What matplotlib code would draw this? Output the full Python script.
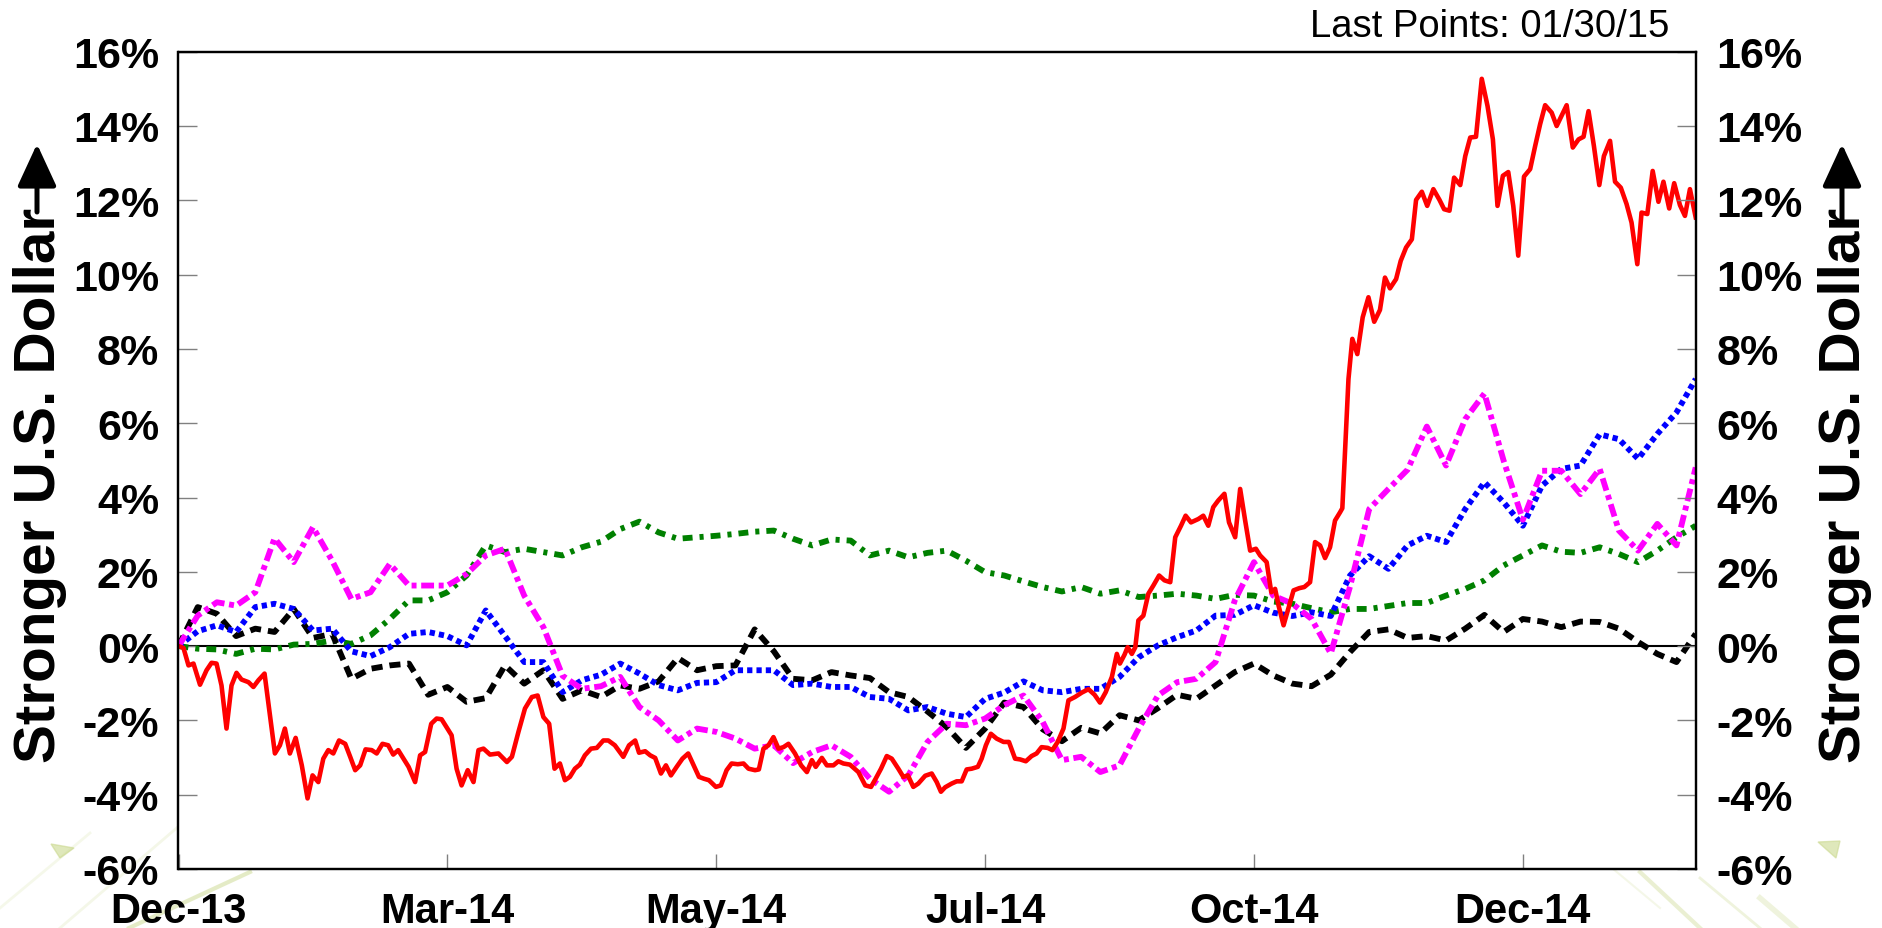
import numpy as np
import pandas as pd
import matplotlib
matplotlib.use("Agg")
import matplotlib.pyplot as plt
import matplotlib.dates as mdates
from matplotlib.lines import Line2D
from matplotlib.patches import Polygon

plt.rcParams['font.family'] = ['Liberation Sans', 'DejaVu Sans']
plt.rcParams['font.weight'] = 'bold'

# ---- data -------------------------------------------------------------
start = pd.Timestamp('2013-12-31')
end = pd.Timestamp('2015-01-30')
dates = pd.date_range(start, end, freq='5D')          # 80 points
tick_dates = pd.date_range(start, periods=6, freq='70D')
y_ticks = list(range(-6, 17, 2))

# red series is daily-ish, stored as day offsets from start
red_days = [0, 1.3, 2.6, 3.9, 5.6, 7.3, 8.6, 9.9, 11.2, 12.5, 13.8, 15.1, 16.4, 18.2, 19.5,
            20.8, 22.4, 23.8, 25.1, 26.4, 27.7, 29.0, 30.5, 32.1, 33.6, 34.9, 36.4, 37.7,
            39.0, 40.3, 41.8, 43.4, 44.7, 46.0, 47.3, 48.7, 50.3, 51.6, 53.1, 54.6, 55.9,
            57.2, 59.9, 61.6, 62.9, 64.2, 65.8, 67.2, 68.5, 71.1, 72.4, 73.7, 75.3, 76.8,
            78.1, 79.4, 81.1, 83.3, 85.5, 86.8, 88.5, 90.2, 92.0, 93.5, 95.0, 96.5, 97.9,
            99.3, 100.6, 101.9, 103.2, 104.5, 105.8, 107.4, 108.9, 110.6, 111.9, 113.6,
            115.8, 117.3, 118.9, 119.9, 121.5, 122.8, 124.1, 125.6, 126.9, 128.2, 129.7,
            131.2, 132.7, 134.3, 135.5, 136.8, 138.1, 139.9, 141.2, 142.7, 144.0, 145.6,
            147.1, 148.4, 150.1, 151.1, 152.3, 153.6, 154.9, 156.2, 157.5, 158.8, 160.5,
            162.1, 163.6, 164.9, 165.9, 167.5, 168.8, 170.5, 171.8, 173.1, 174.8, 177.0,
            178.8, 180.3, 181.5, 182.9, 184.4, 185.7, 187.4, 188.7, 189.9, 191.3, 192.6,
            194.4, 196.1, 197.4, 198.5, 199.6, 201.3, 202.6, 203.9, 205.2, 206.5, 208.1,
            209.1, 210.2, 211.5, 213.0, 214.8, 216.2, 217.8, 219.1, 220.6, 222.1, 223.4,
            224.7, 226.3, 227.5, 228.9, 230.4, 231.7, 233.4, 235.2, 236.9, 238.5, 239.9,
            241.4, 243.0, 244.3, 245.1, 246.3, 247.1, 248.2, 249.1, 249.9, 251.2, 252.5,
            253.8, 255.3, 256.7, 258.2, 259.5, 261.0, 262.2, 263.6, 265.5, 266.8, 268.1,
            269.4, 270.7, 272.3, 273.5, 275.1, 276.4, 277.7, 279.0, 280.5, 281.6, 283.3,
            284.5, 285.5, 286.4, 287.7, 288.8, 290.3, 291.8, 293.1, 294.6, 295.9, 297.2,
            298.5, 299.8, 301.1, 302.4, 303.0, 304.6, 305.6, 306.9, 308.3, 309.8, 311.3,
            312.8, 314.1, 315.4, 317.0, 318.2, 319.6, 321.1, 322.2, 323.7, 325.1, 326.7,
            328.3, 329.5, 330.9, 332.1, 333.7, 335.0, 336.3, 337.8, 339.3, 340.8, 342.2,
            343.4, 344.8, 346.2, 347.5, 348.8, 350.3, 351.9, 353.2, 354.5, 355.8, 357.5,
            358.8, 361.4, 363.0, 364.5, 365.8, 367.1, 368.5, 369.9, 371.1, 372.7, 374.0,
            375.5, 377.0, 378.3, 379.8, 380.9, 382.4, 383.8, 385.3, 386.6, 388.1, 389.4,
            390.9, 392.2, 393.5, 395.0]
red_vals = [0.00, -0.05, -0.52, -0.47, -1.04, -0.65, -0.45, -0.47, -1.06, -2.22, -1.06, -0.72,
            -0.90, -0.97, -1.10, -0.92, -0.74, -1.86, -2.89, -2.67, -2.22, -2.89, -2.47, -3.21,
            -4.10, -3.48, -3.66, -3.03, -2.80, -2.89, -2.54, -2.63, -2.98, -3.34, -3.21, -2.78,
            -2.80, -2.89, -2.63, -2.67, -2.92, -2.80, -3.25, -3.66, -2.94, -2.85, -2.09, -1.95,
            -1.97, -2.40, -3.30, -3.75, -3.34, -3.66, -2.80, -2.76, -2.92, -2.89, -3.12, -2.98,
            -2.31, -1.68, -1.37, -1.33, -1.91, -2.09, -3.30, -3.16, -3.61, -3.52, -3.30, -3.19,
            -2.94, -2.76, -2.74, -2.54, -2.54, -2.67, -2.98, -2.67, -2.54, -2.87, -2.83, -2.94,
            -3.01, -3.43, -3.21, -3.48, -3.25, -3.03, -2.89, -3.25, -3.52, -3.57, -3.61, -3.79,
            -3.75, -3.34, -3.16, -3.18, -3.16, -3.30, -3.34, -3.32, -2.76, -2.67, -2.45, -2.76,
            -2.72, -2.63, -2.89, -3.21, -3.39, -3.07, -3.25, -3.01, -3.21, -3.21, -3.10, -3.16,
            -3.19, -3.39, -3.75, -3.79, -3.57, -3.30, -2.96, -3.03, -3.30, -3.52, -3.48, -3.79,
            -3.70, -3.49, -3.43, -3.66, -3.92, -3.80, -3.70, -3.64, -3.64, -3.32, -3.30, -3.25,
            -3.03, -2.67, -2.36, -2.49, -2.58, -2.58, -3.03, -3.05, -3.10, -2.96, -2.89, -2.72,
            -2.74, -2.80, -2.58, -2.22, -1.46, -1.37, -1.25, -1.16, -1.31, -1.52, -1.24, -0.83,
            -0.21, -0.47, -0.23, -0.03, -0.21, -0.03, 0.69, 0.82, 1.41, 1.63, 1.90, 1.77, 1.72,
            2.93, 3.24, 3.51, 3.33, 3.42, 3.51, 3.24, 3.74, 3.92, 4.10, 3.33, 2.93, 4.23, 3.38,
            2.57, 2.62, 2.44, 2.26, 1.45, 1.54, 1.09, 0.56, 0.96, 1.50, 1.56, 1.59, 1.72, 2.80,
            2.71, 2.37, 2.66, 3.38, 3.60, 3.71, 7.19, 8.27, 7.86, 8.85, 9.39, 8.73, 9.05, 9.92,
            9.63, 9.88, 10.37, 10.73, 10.95, 12.01, 12.23, 11.85, 12.30, 12.01, 11.76, 11.72,
            12.61, 12.41, 13.19, 13.69, 13.71, 15.27, 14.54, 13.64, 11.85, 12.66, 12.76, 11.85,
            10.51, 12.64, 12.84, 13.46, 14.05, 14.56, 14.36, 14.00, 14.56, 13.42, 13.64, 13.71,
            14.40, 13.46, 12.41, 13.19, 13.60, 12.50, 12.34, 11.90, 11.40, 10.28, 11.67, 11.63,
            12.79, 11.96, 12.50, 11.78, 12.46, 11.87, 11.58, 12.30, 11.54]

# remaining series sampled every 5 days
magenta_vals = [0.00, 0.82, 1.18, 1.09, 1.45, 2.90, 2.26, 3.20, 2.30, 1.27,
                1.45, 2.21, 1.63, 1.63, 1.63, 1.94, 2.44, 2.62, 1.36, 0.51,
                -0.80, -1.15, -1.08, -0.83, -1.64, -2.00, -2.54, -2.22, -2.31, -2.49,
                -2.76, -2.67, -3.15, -2.85, -2.67, -2.98, -3.57, -3.92, -3.48, -2.58,
                -2.09, -2.13, -1.95, -1.59, -1.33, -2.04, -3.07, -2.98, -3.39, -3.21,
                -2.22, -1.33, -0.97, -0.88, -0.43, 1.23, 2.26, 1.36, 1.14, 0.73,
                -0.20, 1.60, 3.69, 4.23, 4.75, 5.91, 4.86, 6.11, 6.80, 4.99,
                3.40, 4.72, 4.72, 4.09, 4.77, 3.11, 2.57, 3.29, 2.71, 4.81]
blue_vals = [0.00, 0.40, 0.56, 0.38, 1.05, 1.14, 1.00, 0.42, 0.47, -0.14,
             -0.27, -0.03, 0.33, 0.38, 0.27, 0.02, 0.96, 0.27, -0.43, -0.43,
             -1.24, -0.92, -0.77, -0.47, -0.74, -1.05, -1.19, -0.99, -0.97, -0.65,
             -0.65, -0.65, -1.05, -1.01, -1.10, -1.10, -1.37, -1.42, -1.73, -1.64,
             -1.82, -1.91, -1.42, -1.25, -0.95, -1.19, -1.24, -1.15, -1.15, -0.83,
             -0.30, 0.02, 0.24, 0.42, 0.82, 0.84, 1.10, 0.90, 0.81, 0.91,
             0.81, 1.90, 2.42, 2.08, 2.71, 2.97, 2.80, 3.69, 4.41, 3.87,
             3.24, 4.32, 4.77, 4.86, 5.70, 5.57, 5.04, 5.71, 6.29, 7.19]
green_vals = [0.00, -0.07, -0.09, -0.21, -0.07, -0.09, 0.04, 0.06, 0.15, 0.06,
              0.29, 0.73, 1.23, 1.23, 1.45, 1.90, 2.71, 2.53, 2.62, 2.53,
              2.44, 2.66, 2.81, 3.15, 3.35, 3.06, 2.89, 2.93, 2.97, 3.02,
              3.08, 3.11, 2.89, 2.71, 2.87, 2.84, 2.44, 2.57, 2.39, 2.51,
              2.57, 2.30, 1.99, 1.90, 1.74, 1.59, 1.47, 1.59, 1.41, 1.50,
              1.32, 1.36, 1.41, 1.36, 1.27, 1.38, 1.36, 1.20, 1.14, 1.02,
              0.91, 1.00, 1.00, 1.08, 1.16, 1.16, 1.36, 1.54, 1.77, 2.17,
              2.44, 2.71, 2.54, 2.51, 2.66, 2.48, 2.26, 2.57, 2.93, 3.24]
black_vals = [0.00, 1.05, 0.87, 0.27, 0.47, 0.38, 1.00, 0.22, 0.33, -0.88,
              -0.61, -0.52, -0.47, -1.31, -1.10, -1.50, -1.40, -0.52, -1.01, -0.65,
              -1.42, -1.19, -1.37, -1.06, -1.15, -0.95, -0.32, -0.65, -0.54, -0.52,
              0.45, -0.14, -0.88, -0.92, -0.70, -0.79, -0.86, -1.24, -1.37, -1.76,
              -2.18, -2.74, -2.22, -1.52, -1.64, -2.24, -2.56, -2.20, -2.35, -1.86,
              -2.00, -1.67, -1.31, -1.42, -1.06, -0.70, -0.47, -0.79, -1.01, -1.08,
              -0.77, -0.16, 0.38, 0.45, 0.22, 0.27, 0.15, 0.47, 0.84, 0.38,
              0.73, 0.66, 0.51, 0.66, 0.65, 0.47, 0.11, -0.21, -0.43, 0.33]

red_dates = start + pd.to_timedelta(red_days, unit='D')

# ---- figure -----------------------------------------------------------
W, H = 1883, 929
fig = plt.figure(figsize=(W / 100, H / 100), dpi=100, facecolor='white')

# faint decorative streaks in the lower corners
deco = '#cbd98f'
for (x0, y0, x1, y1, lw, a) in [(129, 0, 250, 56, 3, 0.5), (60, 0, 200, 120, 2, 0.2),
                                (0, 20, 90, 95, 2, 0.18), (1640, 56, 1700, 0, 3, 0.4),
                                (1700, 50, 1760, 0, 2, 0.3), (1760, 30, 1795, 0, 4, 0.3),
                                (1600, 70, 1660, 20, 1.5, 0.2)]:
    fig.add_artist(Line2D([x0 / W, x1 / W], [y0 / H, y1 / H], transform=fig.transFigure,
                          color=deco, lw=lw, alpha=a, zorder=0))
for tri in [[(51, 84), (74, 80), (60, 70)], [(1818, 86), (1840, 87), (1836, 70)]]:
    fig.add_artist(Polygon([(x / W, y / H) for x, y in tri], closed=True,
                           transform=fig.transFigure, color=deco, alpha=0.6, zorder=0))

ax = fig.add_axes([178.5 / W, 59 / H, 1517.2 / W, 817.3 / H])
ax.set_facecolor('white')

ax.plot(dates, green_vals, color='#008000', lw=4.2, dashes=(1.7, 1.2, 0.7, 1.2))
ax.plot(dates, black_vals, color='black', lw=4.2, dashes=(1.9, 1.2))
ax.plot(dates, blue_vals, color='#0000ff', lw=4.2, dashes=(0.9, 0.7))
ax.plot(dates, magenta_vals, color='#ff00ff', lw=4.2, dashes=(2.2, 0.8, 0.85, 0.8))
ax.plot(red_dates, red_vals, color='#ff0000', lw=3.3)
ax.axhline(0, color='black', lw=1.5, zorder=1)

ax.set_xlim(start, end)
ax.set_ylim(-6, 16)
ax.set_xticks(tick_dates)
ax.xaxis.set_major_formatter(mdates.DateFormatter('%b-%y'))
ax.set_yticks(y_ticks)
ax.set_yticklabels([f'{v}%' for v in y_ticks])
ax.tick_params(axis='x', direction='in', length=11, width=1.0, color='#808080',
               labelsize=30, pad=15.5)
ax.tick_params(axis='y', direction='in', length=13.5, width=1.0, color='#808080',
               labelsize=31, pad=14)
for s in ax.spines.values():
    s.set_linewidth(1.6)

ax2 = ax.twinx()
ax2.set_ylim(-6, 16)
ax2.set_yticks(y_ticks)
ax2.set_yticklabels([f'{v}%' for v in y_ticks])
ax2.tick_params(axis='y', direction='in', length=13.5, width=1.0, color='#808080',
                labelsize=31, pad=15)
for s in ax2.spines.values():
    s.set_linewidth(1.6)

# side labels with "up" arrows
for xc, y_shaft in [(40, 213), (1845, 222)]:
    fig.text(xc / W, 1 - 485 / H, 'Stronger U.S. Dollar', rotation=90,
             ha='center', va='center', fontsize=42, fontweight='bold')
    ax.annotate('', xy=(xc - 3, H - 145), xytext=(xc - 3, H - y_shaft),
                xycoords='figure pixels', textcoords='figure pixels',
                arrowprops=dict(arrowstyle='-|>,head_length=1.3,head_width=0.6',
                                mutation_scale=20, lw=3.6, color='black',
                                shrinkA=0, shrinkB=0))

fig.text(1669 / W, 1 - 37 / H, 'Last Points: 01/30/15', ha='right', va='baseline',
         fontsize=27.5, fontweight='normal')

fig.savefig('out.png', dpi=100, facecolor='white')
